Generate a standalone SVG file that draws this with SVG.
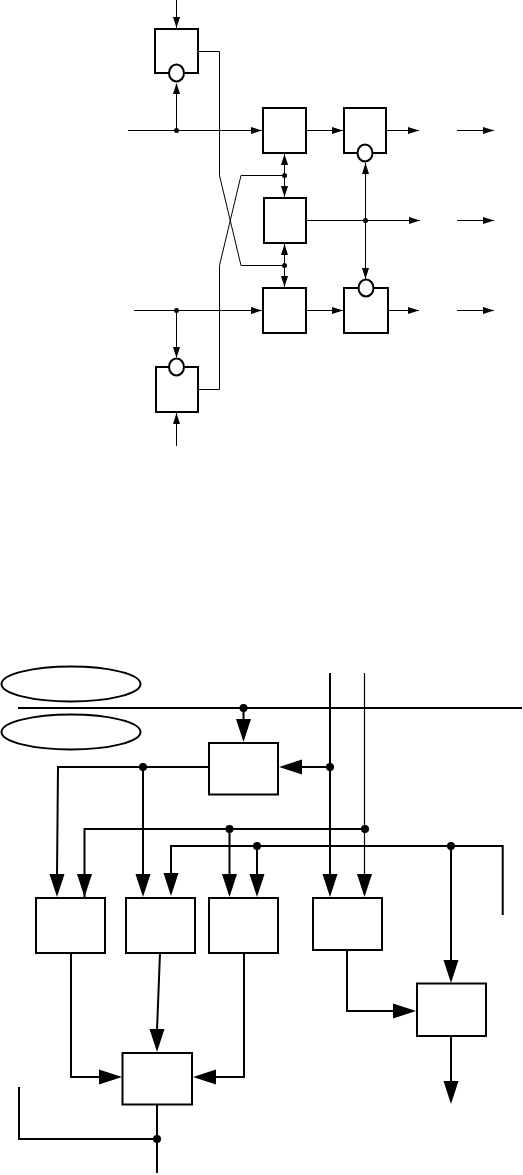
<svg xmlns="http://www.w3.org/2000/svg" width="523" height="1175" viewBox="0 0 523 1175">
<style>
.a{fill:none;stroke:#000;stroke-width:1}
.b{fill:#fff;stroke:#000;stroke-width:2}
.c{fill:none;stroke:#000;stroke-width:2}
.t{fill:none;stroke:#000;stroke-width:1.2}
.d{fill:#000}
.o{fill:#fff;stroke:#000;stroke-width:2}
</style>
<defs>
<path id="hd" class="d" d="M-3.500-11L3.500-11L0 0Z"/>
<path id="hu" class="d" d="M-3.500 11L3.500 11L0 0Z"/>
<path id="hr" class="d" d="M-11-3.500L-11 3.500L0 0Z"/>
<path id="Hd" class="d" d="M-7.500-23L7.500-23L0 0Z"/>
<path id="Hr" class="d" d="M-23-7.500L-23 7.500L0 0Z"/>
<path id="Hl" class="d" d="M23-7.500L23 7.500L0 0Z"/>
</defs>
<g id="connectors-top">
<path class="a" d="M176.500 0V28M128 130.500H262M176.500 130.500V84M134 310.500H262M176.500 310.500V357M176.500 446V413"/>
<path class="a" d="M199 51.500H219.500V175.500L241 265.500H284.500M199 389.500H219.500V265.500L241 175.500H284.500"/>
<path class="a" d="M284.500 153V198M284.500 243V288M306 130.500H343M306 310.500H343M306 220.500H420M365.500 163V279M386 130.500H419M388 310.500H419M457 130.500H494M457 220.500H494M457 310.500H494"/>
<use href="#hd" x="176.500" y="28"/><use href="#hu" x="176.500" y="83"/><use href="#hr" x="262" y="130.500"/>
<use href="#hr" x="262" y="310.500"/><use href="#hd" x="176.500" y="358"/><use href="#hu" x="176.500" y="413"/>
<use href="#hu" x="284.500" y="154"/><use href="#hd" x="284.500" y="197"/><use href="#hu" x="284.500" y="244"/><use href="#hd" x="284.500" y="287"/>
<use href="#hr" x="343" y="130.500"/><use href="#hr" x="343" y="310.500"/>
<use href="#hu" x="365.500" y="163"/><use href="#hd" x="365.500" y="279"/>
<use href="#hr" x="419" y="130.500"/><use href="#hr" x="420" y="220.500"/><use href="#hr" x="419" y="310.500"/>
<use href="#hr" x="494" y="130.500"/><use href="#hr" x="494" y="220.500"/><use href="#hr" x="494" y="310.500"/>
<circle class="d" cx="176.500" cy="130.500" r="2.500"/><circle class="d" cx="176.500" cy="310.500" r="2.500"/>
<circle class="d" cx="284.500" cy="175.500" r="2.500"/><circle class="d" cx="284.500" cy="265.500" r="2.500"/>
<circle class="d" cx="365.500" cy="220.500" r="2.500"/>
</g>
<g id="ff1"><rect class="b" x="155" y="29" width="43" height="44"/><ellipse class="o" cx="176.500" cy="73" rx="7.500" ry="8.500"/></g>
<g id="ff2"><rect class="b" x="156" y="367" width="42" height="45"/><ellipse class="o" cx="176.500" cy="367" rx="7.500" ry="8.500"/></g>
<g id="box-b"><rect class="b" x="263" y="108" width="43" height="45"/></g>
<g id="box-c"><rect class="b" x="264" y="198" width="42" height="45"/></g>
<g id="box-d"><rect class="b" x="263" y="288" width="43" height="45"/></g>
<g id="ff3"><rect class="b" x="344" y="108" width="42" height="45"/><ellipse class="o" cx="365" cy="153" rx="7.500" ry="8.500"/></g>
<g id="ff4"><rect class="b" x="344" y="288" width="44" height="45"/><ellipse class="o" cx="366" cy="288" rx="7.500" ry="8.500"/></g>
<g id="connectors-bottom">
<path class="c" d="M18 708H522M243.500 708V720M208 767H58L57 875M143 767V875M84.500 897V829H365M229.500 829V875M171 875V846H502.700V915M257 846V875M451 846V960M330 673V875M330 767H300"/>
<path class="t" d="M364.500 673V875"/>
<path class="c" d="M347 950V1011H394M451 1036V1082M71 953V1077H100M160 953L157 1030M244 953V1077H215M157 1104V1173M157 1139H19V1087"/>
<use href="#Hd" x="243.500" y="742"/><use href="#Hl" x="279" y="767"/>
<use href="#Hd" x="57" y="897"/><use href="#Hd" x="84.500" y="897"/><use href="#Hd" x="143" y="897"/><use href="#Hd" x="171" y="896"/>
<use href="#Hd" x="229.500" y="897"/><use href="#Hd" x="257" y="897"/><use href="#Hd" x="330" y="897"/><use href="#Hd" x="364.500" y="897"/>
<use href="#Hd" x="451" y="983"/><use href="#Hd" x="451" y="1104"/><use href="#Hr" x="416" y="1011"/>
<use href="#Hr" x="122" y="1077"/><use href="#Hl" x="193" y="1077"/><use href="#Hd" x="157" y="1052"/>
<circle class="d" cx="243.500" cy="708" r="4"/><circle class="d" cx="143" cy="767" r="4"/><circle class="d" cx="330" cy="767" r="4"/>
<circle class="d" cx="229.500" cy="829" r="4"/><circle class="d" cx="365" cy="829" r="4"/><circle class="d" cx="257" cy="846" r="4"/>
<circle class="d" cx="451" cy="846" r="4"/><circle class="d" cx="157" cy="1139" r="4"/>
</g>
<g id="ellipse-1"><ellipse class="c" cx="71" cy="684" rx="69.500" ry="17.500"/></g>
<g id="ellipse-2"><ellipse class="c" cx="71" cy="732" rx="69.500" ry="17.500"/></g>
<g id="box-top"><rect class="b" x="209" y="743" width="69" height="51.500"/></g>
<g id="box-1"><rect class="b" x="36" y="898" width="69" height="55"/></g>
<g id="box-2"><rect class="b" x="126" y="898" width="69" height="55"/></g>
<g id="box-3"><rect class="b" x="209" y="898" width="69" height="55"/></g>
<g id="box-4"><rect class="b" x="313" y="898" width="69" height="52"/></g>
<g id="box-5"><rect class="b" x="417" y="983.500" width="69" height="52.500"/></g>
<g id="box-6"><rect class="b" x="122.500" y="1053" width="69.500" height="51.500"/></g>
</svg>
